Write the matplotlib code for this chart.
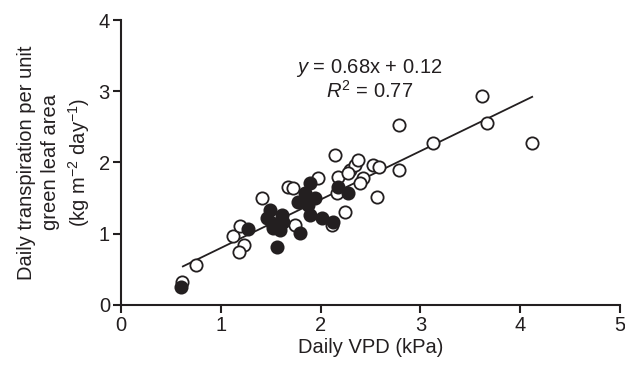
import numpy as np
import matplotlib
matplotlib.use("Agg")
import matplotlib.pyplot as plt

plt.rcParams['font.family'] = ['Liberation Sans', 'DejaVu Sans']
plt.rcParams['mathtext.fontset'] = 'custom'
plt.rcParams['mathtext.rm'] = 'Liberation Sans'
plt.rcParams['mathtext.it'] = 'Liberation Sans:italic'

# open circles
open_x = [0.61, 0.75, 1.12, 1.19, 1.23, 1.18, 1.41, 1.67, 1.72, 1.74,
          1.97, 2.14, 2.17, 2.16, 2.11, 2.24, 2.29, 2.34, 2.37, 2.27,
          2.53, 2.59, 2.42, 2.39, 2.57, 2.79, 2.79, 3.13, 3.62, 3.67, 4.12]
open_y = [0.32, 0.56, 0.97, 1.11, 0.84, 0.74, 1.50, 1.65, 1.64, 1.12,
          1.78, 2.11, 1.80, 1.57, 1.12, 1.30, 1.89, 1.96, 2.03, 1.85,
          1.96, 1.93, 1.78, 1.71, 1.51, 1.89, 2.52, 2.27, 2.93, 2.55, 2.28]

# filled circles
fill_x = [0.60, 1.27, 1.49, 1.46, 1.51, 1.61, 1.62, 1.59, 1.52, 1.56,
          1.79, 1.89, 1.89, 1.84, 1.77, 1.94, 1.87, 2.01, 2.12, 2.17, 2.27]
fill_y = [0.25, 1.07, 1.33, 1.22, 1.15, 1.26, 1.16, 1.05, 1.08, 0.81,
          1.01, 1.26, 1.71, 1.57, 1.44, 1.50, 1.40, 1.22, 1.17, 1.66, 1.57]

slope, intercept = 0.68, 0.12
line_x = np.array([0.62, 4.12])

fig = plt.figure(figsize=(6.25, 3.65), dpi=100)
ax = fig.add_axes([0.1936, 0.1644, 0.7984, 0.7808])
col = '#231f20'
fs = 14.5

ax.plot(line_x, slope * line_x + intercept, color=col, lw=1.3, zorder=1)
ax.scatter(open_x, open_y, s=78, facecolors='white', edgecolors=col,
           linewidths=1.3, zorder=2)
ax.scatter(fill_x, fill_y, s=78, facecolors=col, edgecolors=col,
           linewidths=1.3, zorder=3)

ax.set_xlim(0, 5)
ax.set_ylim(0, 4)
ax.set_xticks(range(6))
ax.set_yticks(range(5))
for s in ['top', 'right']:
    ax.spines[s].set_visible(False)
for s in ['left', 'bottom']:
    ax.spines[s].set_linewidth(1.5)
    ax.spines[s].set_color(col)
ax.tick_params(direction='out', length=6, width=1.5, color=col,
               labelsize=fs, labelcolor=col, pad=2)

ax.set_xlabel('Daily VPD (kPa)', fontsize=fs, color=col, labelpad=2)
ax.set_ylabel('Daily transpiration per unit\ngreen leaf area\n'
              '(kg m$^{-2}$ day$^{-1}$)', fontsize=fs, color=col,
              labelpad=5, linespacing=1.3)

ax.text(2.49, 3.33, r'$\mathit{y}$ = 0.68x + 0.12', ha='center',
        va='center', fontsize=fs, color=col)
ax.text(2.49, 3.01, r'$\mathit{R}^{2}$ = 0.77', ha='center',
        va='center', fontsize=fs, color=col)

fig.savefig('out.png', dpi=100)
